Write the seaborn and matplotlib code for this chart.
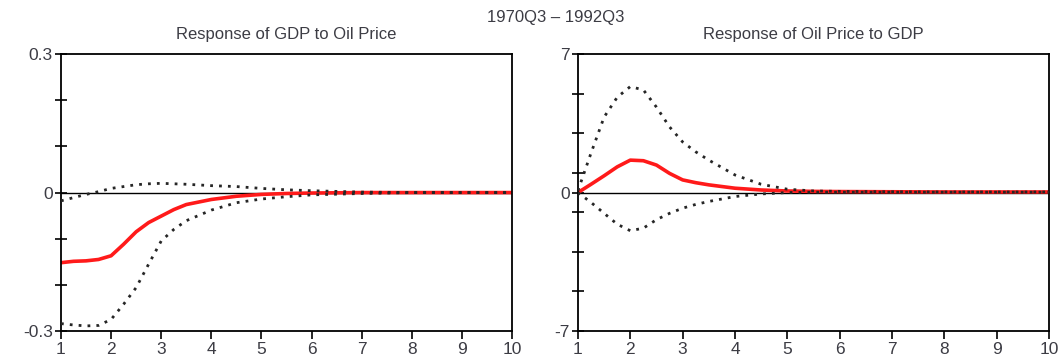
import matplotlib as mpl
mpl.use("Agg")
import seaborn as sns
import pandas as pd
import numpy as np
plt = mpl.pyplot

sns.set_style("white")
mpl.rcParams['font.family'] = ['Liberation Sans', 'DejaVu Sans']
mpl.rcParams['font.size'] = 12

horizon = [1, 1.25, 1.5, 1.75, 2, 2.25, 2.5, 2.75, 3, 3.25, 3.5, 4, 4.5, 5, 5.5, 6, 7, 8, 9, 10]

# response of GDP to oil price
gdp_resp = [-0.152, -0.149, -0.148, -0.145, -0.137, -0.112, -0.085, -0.065, -0.051, -0.037, -0.026,
            -0.015, -0.008, -0.004, -0.002, -0.001, 0.0, 0.0, 0.0, 0.0]
gdp_upper = [-0.018, -0.011, -0.004, 0.002, 0.009, 0.013, 0.017, 0.019, 0.02, 0.019, 0.018,
             0.015, 0.013, 0.009, 0.006, 0.004, 0.001, 0.0, 0.0, 0.0]
gdp_lower = [-0.284, -0.287, -0.289, -0.288, -0.275, -0.242, -0.206, -0.155, -0.105, -0.08, -0.061,
             -0.038, -0.022, -0.014, -0.009, -0.005, -0.002, 0.0, 0.0, 0.0]

# response of oil price to GDP
oil_resp = [0.0, 0.42, 0.85, 1.3, 1.64, 1.61, 1.39, 0.97, 0.64, 0.5, 0.39,
            0.22, 0.13, 0.08, 0.06, 0.05, 0.04, 0.03, 0.03, 0.03]
oil_upper = [0.1, 2.0, 3.82, 4.82, 5.36, 5.19, 4.32, 3.32, 2.56, 2.06, 1.64,
             0.89, 0.42, 0.17, 0.08, 0.06, 0.04, 0.03, 0.03, 0.03]
oil_lower = [0.0, -0.5, -1.05, -1.6, -1.93, -1.8, -1.37, -1.05, -0.79, -0.6, -0.45,
             -0.2, -0.07, 0.0, 0.02, 0.02, 0.02, 0.02, 0.02, 0.02]

panels = [
    ("Response of GDP to Oil Price", gdp_resp, gdp_upper, gdp_lower, 0.3,
     [0.3, 0.2, 0.1, 0, -0.1, -0.2, -0.3], {0.3: "0.3", 0: "0", -0.3: "-0.3"}),
    ("Response of Oil Price to GDP", oil_resp, oil_upper, oil_lower, 7,
     [7, 5, 3, 1, 0, -1, -3, -5, -7], {7: "7", 0: "0", -7: "-7"}),
]

txt = '#3c3c44'
fig = plt.figure(figsize=(10.64, 3.6), dpi=100)
axes = [fig.add_axes([0.0573, 0.0806, 0.4239, 0.769]),
        fig.add_axes([0.5432, 0.0806, 0.4427, 0.769])]

for ax, (title, resp, up, lo, lim, yt, ylab) in zip(axes, panels):
    df = pd.DataFrame({'h': horizon, 'resp': resp, 'up': up, 'lo': lo})
    ax.axhline(0, color='black', lw=1, zorder=1)
    sns.lineplot(data=df, x='h', y='resp', ax=ax, color='#ff1a1a', lw=2.6, zorder=2)
    sns.lineplot(data=df, x='h', y='up', ax=ax, color='0.15', lw=2, linestyle=(0, (1, 2.2)), zorder=3)
    sns.lineplot(data=df, x='h', y='lo', ax=ax, color='0.15', lw=2, linestyle=(0, (1, 2.2)), zorder=3)
    ax.set_xlim(1, 10)
    ax.set_ylim(-lim, lim)
    ax.set_xticks(range(1, 11))
    ax.set_yticks(yt)
    ax.set_yticklabels([ylab.get(v, "") for v in yt])
    ax.tick_params(axis='x', bottom=True, direction='out', length=6, width=1.2, colors='black',
                   labelcolor=txt, labelsize=12.5, pad=2)
    ax.tick_params(axis='y', left=True, direction='inout', length=8, width=1.2, colors='black',
                   labelcolor=txt, labelsize=12.5, pad=2)
    for s in ax.spines.values():
        s.set_color('black')
        s.set_linewidth(1.3)
    ax.set_xlabel('')
    ax.set_ylabel('')
    ax.set_title(title, fontsize=12, color=txt, pad=11)

fig.text(0.522, 0.952, "1970Q3 \u2013 1992Q3", ha='center', va='center', fontsize=12, color=txt)
fig.savefig('out.png', dpi=100)
